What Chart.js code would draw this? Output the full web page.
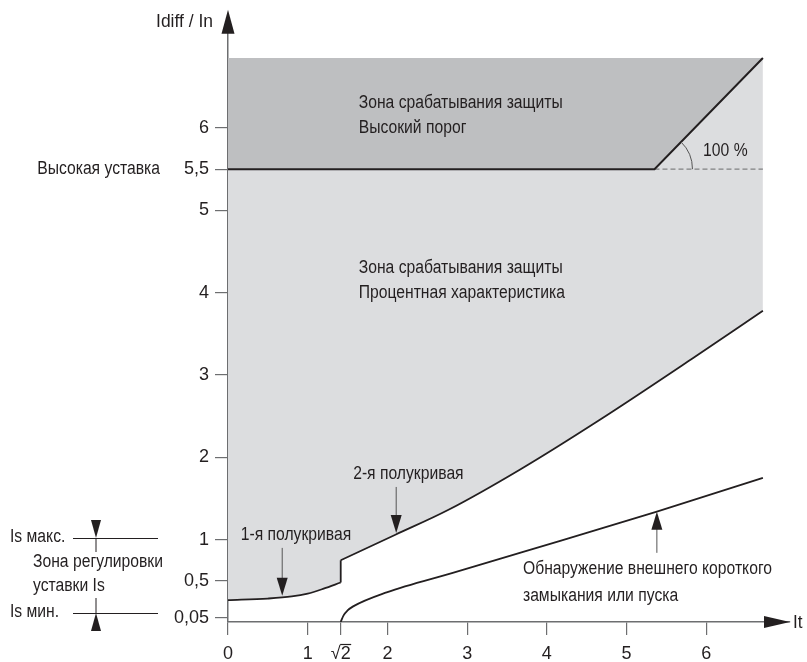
<!DOCTYPE html>
<html>
<head>
<meta charset="UTF-8">
<title>Idiff / In</title>
<style>
  body { margin: 0; background: #fff; }
</style>
</head>
<body>
<canvas id="chart" width="807" height="662"></canvas>
<script src="https://cdn.jsdelivr.net/npm/chart.js"></script>
<script>
const xTicks = [0, 1, Math.SQRT2, 2, 3, 4, 5, 6];
const xTickLabels = ['0', '1', '√2', '2', '3', '4', '5', '6'];
const yTicks = [0.05, 0.5, 1, 2, 3, 4, 5, 5.5, 6];
const yTickLabels = ['0,05', '0,5', '1', '2', '3', '4', '5', '5,5', '6'];

// 1-я полукривая
const curve1X = [0, 0.5, 0.8, 1.0, 1.2, 1.414];
const curve1Y = [0.265, 0.285, 0.31, 0.345, 0.405, 0.48];
// 2-я полукривая
const curve2X = [1.414, 2.1, 2.76, 3.66, 4.67, 5.84, 6.71];
const curve2Y = [0.75, 1.06, 1.36, 1.85, 2.46, 3.21, 3.78];
// обнаружение внешнего КЗ или пуска
const extX = [1.414, 1.45, 1.5, 1.57, 1.99, 2.83, 3.66, 5.38, 6.71];
const extY = [0, 0.08, 0.14, 0.19, 0.36, 0.6, 0.84, 1.34, 1.75];
// высокая уставка + наклон 100 %
const highX = [0, 5.35, 6.71];
const highY = [5.5, 5.5, 6.85];
const zoneTop = 6.85;

const FONT = '"Liberation Sans", Arial, sans-serif';
const INK = '#231f20';
const AXIS = '#6d6e70';

Chart.defaults.font.family = FONT;
Chart.defaults.color = INK;

const pts = (xs, ys) => xs.map((x, i) => ({ x: x, y: ys[i] }));

const lineStyle = {
    showLine: true,
    borderColor: INK,
    borderWidth: 1.8,
    pointRadius: 0,
    fill: false,
};

// стрелки, подписи
function head(ctx, x, y, dir, len, half) {
    ctx.beginPath();
    ctx.moveTo(x, y);
    if (dir === 'down') { ctx.lineTo(x - half, y - len); ctx.lineTo(x + half, y - len); }
    if (dir === 'up') { ctx.lineTo(x - half, y + len); ctx.lineTo(x + half, y + len); }
    if (dir === 'right') { ctx.lineTo(x - len, y - half); ctx.lineTo(x - len, y + half); }
    ctx.closePath();
    ctx.fill();
}

function vline(ctx, x, y1, y2) {
    ctx.beginPath();
    ctx.moveTo(x, y1);
    ctx.lineTo(x, y2);
    ctx.stroke();
}

// узкий шрифт: сжимаем по горизонтали
let narrow = 0.8;
function text(ctx, str, x, y, align, k) {
    ctx.save();
    ctx.translate(x, y);
    ctx.scale(k || narrow, 1);
    ctx.textAlign = align || 'left';
    ctx.fillText(str, 0, 0);
    ctx.restore();
}

const annotations = {
    id: 'annotations',
    afterDraw(chart) {
        const ctx = chart.ctx;
        const sx = chart.scales.x;
        const sy = chart.scales.y;
        const px = (v) => sx.getPixelForValue(v);
        const py = (v) => sy.getPixelForValue(v);
        const left = chart.chartArea.left;
        const right = chart.chartArea.right;
        const top = chart.chartArea.top;
        const bottom = chart.chartArea.bottom;

        ctx.save();
        ctx.fillStyle = INK;
        ctx.strokeStyle = '#555';
        ctx.lineWidth = 1;
        ctx.font = '18px ' + FONT;
        ctx.textBaseline = 'middle';
        narrow = 204 / ctx.measureText('Зона срабатывания защиты').width;

        // оси
        head(ctx, left, top - 7, 'up', 24, 6.5);
        head(ctx, right, bottom, 'right', 26, 6);
        text(ctx, 'Idiff / In', 213, 22, 'right', 0.97);
        text(ctx, 'It', right + 3, bottom + 1, 'left', 0.95);

        // черта над корнем √2
        ctx.textBaseline = 'top';
        const w = ctx.measureText('√2').width;
        const wr = ctx.measureText('√').width;
        const x0 = px(Math.SQRT2) - w / 2;
        ctx.strokeStyle = INK;
        ctx.lineWidth = 1.2;
        ctx.beginPath();
        ctx.moveTo(x0 + wr - 0.5, bottom + 13 + 8 + 1.5);
        ctx.lineTo(x0 + w + 0.5, bottom + 13 + 8 + 1.5);
        ctx.stroke();
        ctx.textBaseline = 'middle';
        ctx.strokeStyle = '#555';
        ctx.lineWidth = 1;

        // зоны
        text(ctx, 'Зона срабатывания защиты', px(1.64), py(6.3));
        text(ctx, 'Высокий порог', px(1.64), py(6.0));
        text(ctx, 'Зона срабатывания защиты', px(1.64), py(4.3));
        text(ctx, 'Процентная характеристика', px(1.64), py(4.0));
        text(ctx, '100 %', px(5.96), py(5.72));

        // дуга 100 %
        const cx = px(highX[1]), cy = py(highY[1]);
        const ang = Math.atan2(py(highY[2]) - cy, px(highX[2]) - cx);
        ctx.beginPath();
        ctx.arc(cx, cy, 38, ang, 0);
        ctx.stroke();

        text(ctx, 'Высокая уставка', 160, py(5.5), 'right');

        // полукривые
        text(ctx, '1-я полукривая', px(0.16), py(1.06));
        vline(ctx, px(0.68), py(0.9), py(0.45));
        head(ctx, px(0.68), py(0.32), 'down', 18, 5.5);

        text(ctx, '2-я полукривая', px(1.57), py(1.8));
        vline(ctx, px(2.11), py(1.64), py(1.25));
        head(ctx, px(2.11), py(1.08), 'down', 18, 5.5);

        text(ctx, 'Обнаружение внешнего короткого', px(3.7), py(0.64));
        text(ctx, 'замыкания или пуска', px(3.7), py(0.32));
        vline(ctx, px(5.38), py(0.84), py(1.2));
        head(ctx, px(5.38), py(1.34), 'up', 18, 5.5);

        // зона регулировки Is
        text(ctx, 'Is макс.', 10, 537);
        text(ctx, 'Зона регулировки', 33, 562);
        text(ctx, 'уставки Is', 33, 586);
        text(ctx, 'Is мин.', 10, 612);
        ctx.strokeStyle = INK;
        ctx.beginPath();
        ctx.moveTo(73, 538.5); ctx.lineTo(158, 538.5);
        ctx.moveTo(73, 613.5); ctx.lineTo(158, 613.5);
        ctx.stroke();
        vline(ctx, 96, 538, 552);
        vline(ctx, 96, 598, 613);
        head(ctx, 96, 538, 'down', 18, 5);
        head(ctx, 96, 613, 'up', 18, 5);

        ctx.restore();
    }
};

new Chart(document.getElementById('chart'), {
    type: 'scatter',
    data: {
        datasets: [
            Object.assign({}, lineStyle, { label: '1-я полукривая', data: pts(curve1X, curve1Y), cubicInterpolationMode: 'monotone' }),
            Object.assign({}, lineStyle, { label: 'скачок', data: pts([curve1X[5], curve2X[0]], [curve1Y[5], curve2Y[0]]) }),
            Object.assign({}, lineStyle, { label: '2-я полукривая', data: pts(curve2X, curve2Y), cubicInterpolationMode: 'monotone' }),
            Object.assign({}, lineStyle, { label: 'внешнее КЗ', data: pts(extX, extY), cubicInterpolationMode: 'monotone' }),
            Object.assign({}, lineStyle, {
                label: 'Высокий порог', data: pts(highX, highY),
                fill: { value: zoneTop }, backgroundColor: '#bebfc1', borderWidth: 2,
            }),
            Object.assign({}, lineStyle, {
                label: '5,5', data: pts([highX[1], highX[2]], [5.5, 5.5]),
                borderColor: '#808183', borderWidth: 1.2, borderDash: [5, 3],
            }),
            Object.assign({}, lineStyle, {
                label: 'Процентная зона', data: pts(curve1X.concat(curve2X), curve1Y.concat(curve2Y)),
                borderWidth: 0, fill: { value: zoneTop }, backgroundColor: '#dcdddf',
            }),
        ],
    },
    options: {
        responsive: false,
        animation: false,
        layout: { padding: { left: 0, right: 17, top: 15, bottom: 0 } },
        plugins: {
            legend: { display: false },
            tooltip: { enabled: false },
        },
        scales: {
            x: {
                type: 'linear',
                min: 0,
                max: 7.05,
                afterBuildTicks: (s) => { s.ticks = xTicks.map((v) => ({ value: v })); },
                afterFit: (s) => { s.height = 40; },
                ticks: {
                    autoSkip: false,
                    maxRotation: 0,
                    padding: 8,
                    color: INK,
                    font: { size: 18 },
                    callback: (v, i) => xTickLabels[i],
                },
                grid: { drawOnChartArea: false, tickLength: 13, color: AXIS, lineWidth: 1.2 },
                border: { color: AXIS, width: 1.5 },
            },
            y: {
                type: 'linear',
                min: 0,
                max: 7.35,
                afterBuildTicks: (s) => { s.ticks = yTicks.map((v) => ({ value: v })); },
                afterFit: (s) => { s.width = 228; },
                ticks: {
                    autoSkip: false,
                    padding: 6,
                    color: INK,
                    font: { size: 18 },
                    callback: (v, i) => yTickLabels[i],
                },
                grid: { drawOnChartArea: false, tickLength: 13, color: AXIS, lineWidth: 1.2 },
                border: { color: AXIS, width: 1.5 },
            },
        },
    },
    plugins: [annotations],
});
</script>
</body>
</html>
